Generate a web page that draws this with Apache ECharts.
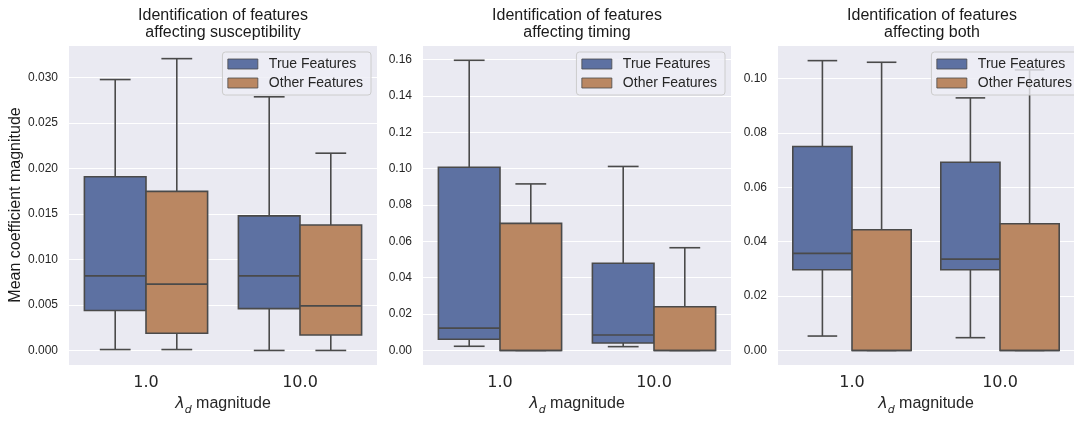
<!DOCTYPE html>
<html>
<head>
<meta charset="utf-8">
<script src="https://cdn.jsdelivr.net/npm/echarts@6/dist/echarts.min.js"></script>
<style>html,body{margin:0;padding:0;background:#fff;overflow:hidden;}#c{width:1074px;height:421px;}</style>
</head>
<body>
<div id="c"></div>
<script>
// ---- data ----
const categories = ['1.0', '10.0'];
const seriesNames = ['True Features', 'Other Features'];
const panelTitles = [
  'Identification of features\naffecting susceptibility',
  'Identification of features\naffecting timing',
  'Identification of features\naffecting both'
];
// each row: [low whisker, Q1, median, Q3, high whisker] for categories 1.0, 10.0
const suscTrue  = [[0.0001, 0.0044, 0.0082, 0.0191, 0.0298], [0.0000, 0.0046, 0.0082, 0.0148, 0.0279]];
const suscOther = [[0.0001, 0.0019, 0.0073, 0.0175, 0.0321], [0.0000, 0.0017, 0.0049, 0.0138, 0.0217]];
const timingTrue  = [[0.0023, 0.0062, 0.0123, 0.1008, 0.1596], [0.0021, 0.0041, 0.0085, 0.0480, 0.1012]];
const timingOther = [[0.0000, 0.0000, 0.0000, 0.0699, 0.0916], [0.0000, 0.0000, 0.0000, 0.0240, 0.0565]];
const bothTrue  = [[0.0053, 0.0297, 0.0357, 0.0750, 0.1066], [0.0047, 0.0297, 0.0336, 0.0692, 0.0929]];
const bothOther = [[0.0000, 0.0000, 0.0000, 0.0444, 0.1060], [0.0000, 0.0000, 0.0000, 0.0466, 0.1032]];
const yTickDecimals = [3, 2, 2];

// ---- styling / layout ----
const panelData = [[suscTrue, suscOther], [timingTrue, timingOther], [bothTrue, bothOther]];
const colors = ['#5d71a2', '#ba8762'];
const edge = '#4a4a4a';
const W = 1074, H = 421;
const grids = [
  {left: 69, width: 308, yMin: -0.0016, yMax: 0.0336, split: 7},
  {left: 423, width: 308, yMin: -0.008, yMax: 0.168, split: 8},
  {left: 778, width: 308, yMin: -0.00535, yMax: 0.11235, split: 6}
];
const font = 'Liberation Sans, Arial, Helvetica, sans-serif';

function makeRender(sign) {
  return function (params, api) {
    const cat = api.value(0);
    const band = api.size([1, 0])[0];
    const w = band * 0.4;
    const cx = api.coord([cat, 0])[0] + sign * w / 2;
    const y = i => api.coord([cat, api.value(i)])[1];
    const low = y(1), q1 = y(2), med = y(3), q3 = y(4), high = y(5);
    const ls = {stroke: edge, lineWidth: 1.6};
    return {
      type: 'group',
      children: [
        {type: 'line', shape: {x1: cx, y1: q3, x2: cx, y2: high}, style: ls},
        {type: 'line', shape: {x1: cx, y1: q1, x2: cx, y2: low}, style: ls},
        {type: 'line', shape: {x1: cx - w / 4, y1: high, x2: cx + w / 4, y2: high}, style: ls},
        {type: 'line', shape: {x1: cx - w / 4, y1: low, x2: cx + w / 4, y2: low}, style: ls},
        {type: 'rect', shape: {x: cx - w / 2, y: q3, width: w, height: q1 - q3},
          style: {fill: api.visual('color'), stroke: edge, lineWidth: 1.6}},
        {type: 'line', shape: {x1: cx - w / 2, y1: med, x2: cx + w / 2, y2: med}, style: ls}
      ]
    };
  };
}

const option = {
  animation: false,
  backgroundColor: '#fff',
  title: [], legend: [], grid: [], xAxis: [], yAxis: [], series: []
};

grids.forEach((g, p) => {
  const cx = g.left + g.width / 2;
  option.title.push({
    text: panelTitles[p], left: cx, top: 7, textAlign: 'center', padding: 0,
    textStyle: {fontFamily: font, fontSize: 16, fontWeight: 'normal', color: '#1a1a1a', lineHeight: 17}
  });
  option.legend.push({
    data: seriesNames, right: W - (g.left + g.width - 6), top: 52, orient: 'vertical',
    icon: 'rect', itemWidth: 30, itemHeight: 10, itemGap: 5,
    padding: [5, 8, 5, 5],
    backgroundColor: 'rgba(238,238,245,0.8)', borderColor: '#cccccc', borderWidth: 1, borderRadius: 3,
    itemStyle: {borderColor: edge, borderWidth: 0.8},
    textStyle: {fontFamily: font, fontSize: 14, color: '#262626', padding: [0, 0, 0, 6], lineHeight: 14}
  });
  option.grid.push({
    left: g.left, width: g.width, top: 45, height: 328,
    show: true, backgroundColor: '#EAEAF2', borderWidth: 0
  });
  option.xAxis.push({
    type: 'category', gridIndex: p, data: categories,
    axisLine: {show: false}, axisTick: {show: false}, splitLine: {show: false},
    axisLabel: {fontFamily: 'DejaVu Sans, sans-serif', fontSize: 16, color: '#262626', margin: 10},
    name: '{l|λ}{d|d}{m| magnitude}', nameLocation: 'middle', nameGap: 27,
    nameTextStyle: {
      rich: {
        l: {fontFamily: 'DejaVu Sans, sans-serif', fontStyle: 'italic', fontSize: 16, color: '#262626', verticalAlign: 'bottom', lineHeight: 20},
        d: {fontFamily: 'DejaVu Sans, sans-serif', fontStyle: 'italic', fontSize: 11, color: '#262626', verticalAlign: 'bottom', lineHeight: 14, padding: [0, 0, -4, 0]},
        m: {fontFamily: font, fontSize: 16, color: '#262626', verticalAlign: 'bottom', lineHeight: 20}
      }
    }
  });
  const dec = yTickDecimals[p];
  option.yAxis.push({
    type: 'value', gridIndex: p, min: g.yMin, max: g.yMax, splitNumber: g.split,
    axisLine: {show: false}, axisTick: {show: false},
    splitLine: {lineStyle: {color: '#ffffff', width: 1.2}},
    axisLabel: {fontFamily: font, fontSize: 12, color: '#262626', margin: 11,
      showMinLabel: false, showMaxLabel: false, formatter: v => v.toFixed(dec)},
    name: p === 0 ? 'Mean coefficient magnitude' : '',
    nameLocation: 'middle', nameGap: 45,
    nameTextStyle: {fontFamily: font, fontSize: 16, color: '#1a1a1a'}
  });
  panelData[p].forEach((arr, s) => {
    option.series.push({
      type: 'custom', name: seriesNames[s], xAxisIndex: p, yAxisIndex: p,
      itemStyle: {color: colors[s]},
      renderItem: makeRender(s === 0 ? -1 : 1),
      encode: {x: 0, y: [1, 2, 3, 4, 5]},
      data: arr.map((r, i) => [i].concat(r))
    });
  });
});

const chart = echarts.init(document.getElementById('c'), null, {renderer: 'canvas', width: W, height: H});
chart.setOption(option);
</script>
</body>
</html>
